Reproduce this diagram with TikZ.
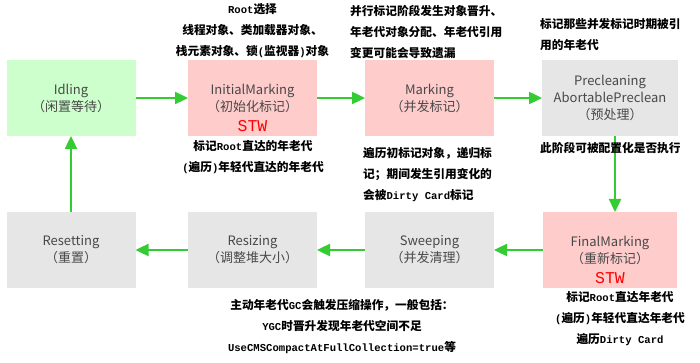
\documentclass[tikz,border=0pt]{standalone}
\usepackage{fontspec}
\setmainfont{Noto Sans CJK SC}
\newfontfamily\notecjk{Noto Sans CJK SC}
\newfontfamily\notemono{Liberation Mono}
\newfontfamily\stwfont{Liberation Mono}
\newcommand\lat[1]{{\notemono\bfseries\fontsize{10.6}{21}\selectfont #1}}
\usetikzlibrary{arrows.meta}
\definecolor{boxgreen}{RGB}{204,255,204}
\definecolor{boxpink}{RGB}{255,204,204}
\definecolor{boxgray}{RGB}{230,230,230}
\definecolor{flowgreen}{RGB}{51,204,51}
\definecolor{txtgray}{RGB}{72,72,72}
\begin{document}
\begin{tikzpicture}[x=1pt, y=-1pt, line join=round,
	box/.style={minimum width=129pt, minimum height=76pt, inner sep=0pt, outer sep=0pt,
		align=center, text=txtgray, font=\fontsize{13}{17}\selectfont},
	flow/.style={draw=flowgreen, line width=2.4pt, -{Triangle[length=13pt,width=12pt]}},
	note/.style={inner sep=0pt, font=\notecjk\bfseries\fontsize{11.7}{21}\selectfont},
	stw/.style={text=red, inner sep=0pt, font=\stwfont\fontsize{16.5}{17}\selectfont}]
	\useasboundingbox (0,0) rectangle (700,363);
	% upper row
	\node[box, fill=boxgreen] (idle) at (71,98) {Idling\\（闲置等待）};
	\node[box, fill=boxpink] (init) at (252.5,98) {InitialMarking\\（初始化标记）};
	\node[box, fill=boxpink] (mark) at (429.5,98) {Marking\\（并发标记）};
	\node[box, fill=boxgray, minimum width=136pt] (pre) at (610,98) {Precleaning\\AbortablePreclean\\（预处理）};
	% lower row
	\node[box, fill=boxpink, minimum width=134pt] (final) at (610,250) {FinalMarking\\（重新标记）};
	\node[box, fill=boxgray] (sweep) at (429.5,250) {Sweeping\\（并发清理）};
	\node[box, fill=boxgray] (resize) at (252.5,250) {Resizing\\（调整堆大小）};
	\node[box, fill=boxgray] (reset) at (71,250) {Resetting\\（重置）};
	\node[stw] (stwA) at (252.5,126) {STW};
	\node[stw] (stwB) at (610,278) {STW};
	% state flow
	\draw[flow] (idle) -- (init);
	\draw[flow] (init) -- (mark);
	\draw[flow] (mark) -- (pre);
	\coordinate (pdrop) at ([xshift=5pt]pre.south);
	\coordinate (fdrop) at ([xshift=5pt]final.north);
	\draw[flow] (pdrop) -- (fdrop);
	\draw[flow] (final) -- (sweep);
	\draw[flow] (sweep) -- (resize);
	\draw[flow] (resize) -- (reset);
	\draw[flow] (reset) -- (idle);
	% notes
	\node[note, align=center] (nInitA) at (252.5,31) {\lat{Root}选择\\线程对象、类加载器对象、\\栈元素对象、锁\lat{(}监视器\lat{)}对象};
	\node[note, align=center] (nInitB) at (253,157) {标记\lat{Root}直达的年老代\\\lat{(}遍历\lat{)}年轻代直达的年老代};
	\node[note, align=left, anchor=west] (nMarkA) at (350,32) {并行标记阶段发生对象晋升、\\年老代对象分配、年老代引用\\变更可能会导致遗漏};
	\node[note, align=left, anchor=west] (nMarkB) at (363,175) {遍历初标记对象，递归标\\记；期间发生引用变化的\\会被\lat{Dirty Card}标记};
	\node[note, align=left, anchor=west] (nPreA) at (540,35) {标记那些并发标记时期被引\\用的年老代};
	\node[note, anchor=west] (nPreB) at (540,148) {此阶段可被配置化是否执行};
	\node[note, align=center] (nFinal) at (620,319) {标记\lat{Root}直达年老代\\\lat{(}遍历\lat{)}年轻代直达年老代\\遍历\lat{Dirty Card}};
	\node[note, align=center] (nSweep) at (342,327) {主动年老代\lat{GC}会触发压缩操作，一般包括：\\\lat{YGC}时晋升发现年老代空间不足\\\lat{UseCMSCompactAtFullCollection=true}等};
\end{tikzpicture}
\end{document}
